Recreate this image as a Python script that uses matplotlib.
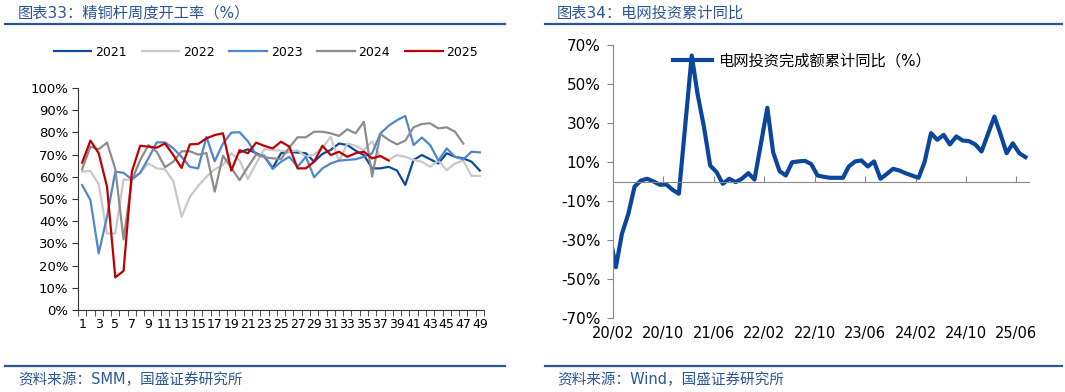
import numpy as np
import pandas as pd
import matplotlib
matplotlib.use('Agg')
import matplotlib.pyplot as plt
from matplotlib.ticker import FuncFormatter
from matplotlib.lines import Line2D

plt.rcParams['font.family'] = ['DejaVu Sans', 'Noto Sans CJK SC']

# ---- 图表33 数据：精铜杆周度开工率（%）----
weeks = np.arange(1, 50)
nan = np.nan
y2021 = [nan] * 19 + [71, 72.4, 70.6, 69, 64, 70.6, 71.3, 70.9, 70.6, 66.8,
                      70.3, 72.1, 75, 74.3, 71.8, 69.8, 63.8, 63.8, 64.5, 62.8,
                      56.3, 67.6, 69.8, 67.9, 66, 70.6, 69, 68.3, 66.8, 62.8]
y2022 = [62.3, 62.6, 56.7, 34.5, 34.5, 58.8, 58.5, 61.8, 66, 63.8,
         63.4, 58, 42, 51, 55.9, 60, 63.4, 65.3, 70.6, 67.5,
         59, 66, 72.5, 72, 71.8, 71.3, 72, 69, 70, 73,
         78, 67, 75, 74, 72, 76, 69, 67.6, 69.8, 69,
         67.6, 66.8, 64.5, 67.3, 63, 66, 67.3, 60.4, 60.4]
y2023 = [56.3, 49.5, 25.5, 42, 62.3, 61.8, 58.9, 61.8, 68.3, 75.5,
         75.5, 72.8, 69, 64.5, 63.8, 78, 67, 75, 79.9, 80.1,
         76, 70, 69.5, 63.5, 66.8, 69, 64.5, 69, 59.8, 63.8,
         66, 67.3, 67.6, 67.9, 69, 70.6, 79.6, 83, 85.5, 87.4,
         74.3, 77.7, 74.3, 67.3, 72.8, 69, 67.9, 71.3, 71]
y2024 = [63.4, 73.6, 72.4, 75.4, 63.5, 31.8, 58.5, 67.5, 74.3, 71.3,
         64.3, 66.8, 71.5, 71.5, 70, 70.7, 53.3, 69.5, 64, 58.5,
         64.4, 70, 68.8, 68.3, 68, 73.2, 77.8, 77.8, 80.3, 80.3,
         79.6, 78.4, 81.4, 79.6, 84.8, 60.1, 79.3, 76.6, 74.6, 76.3,
         82.3, 83.8, 84.1, 81.8, 82.3, 80.3, 75] + [nan] * 2
y2025 = [66.4, 76.3, 70.6, 55.6, 14.7, 17.6, 62.3, 74, 73.6, 73.1,
         75, 69.8, 64, 74.6, 74.8, 77.3, 78.8, 79.6, 62.8, 72,
         70.6, 75.4, 73.9, 72.8, 75.8, 73.6, 63.8, 63.8, 66.8, 74,
         69.8, 71.3, 69, 70.6, 71.3, 68.3, 69.4, 67.3] + [nan] * 11
years = ['2021', '2022', '2023', '2024', '2025']
colors = ['#0B4A9E', '#C9C9C9', '#4F87CC', '#8C8C8C', '#C00000']

# ---- 图表34 数据：电网投资完成额累计同比（%），无1月数据 ----
months = pd.date_range('2019-12-01', '2025-07-01', freq='MS')
months = months[months.month != 1] + pd.Timedelta(days=14)
grid_yoy = ([-10.0]
            + [-43.9, -26.8, -16.6, -2.6, 0.5, 1.4, 0.0, -1.7, -1.5, -4.3, -6.3]
            + [64.6, 45.0, 28.0, 8.2, 4.8, -1.2, 1.4, -0.3, 1.4, 4.3, 1.0]
            + [37.8, 15.0, 5.3, 3.1, 9.9, 10.3, 10.6, 8.9, 3.1, 2.4, 1.9]
            + [1.9, 7.7, 10.3, 10.8, 7.7, 10.3, 1.4, 3.9, 6.5, 5.6, 4.2]
            + [1.9, 10.0, 24.8, 21.4, 23.9, 19.0, 23.1, 21.0, 20.7, 19.0, 15.4]
            + [33.3, 24.7, 14.5, 19.6, 14.5, 12.5])
tick_dates = pd.date_range('2020-02-01', '2025-06-01', freq='8MS')

title_c = '#2B5797'
fig = plt.figure(figsize=(10.65, 3.92), dpi=100)

# 标题、分隔线、来源
fig.text(18 / 1065, 1 - 13 / 392, '图表33：精铜杆周度开工率（%）', fontsize=11,
         color=title_c, va='center')
fig.text(557 / 1065, 1 - 13 / 392, '图表34：电网投资累计同比', fontsize=11,
         color=title_c, va='center')
for x0, x1 in [(5, 505), (545, 1062)]:
    fig.add_artist(Line2D([x0 / 1065, x1 / 1065], [1 - 24 / 392] * 2,
                          color=title_c, lw=1.6))
    fig.add_artist(Line2D([x0 / 1065, x1 / 1065], [1 - 366 / 392] * 2,
                          color=title_c, lw=1.6))
fig.text(18 / 1065, 1 - 380 / 392, '资料来源：SMM，国盛证券研究所', fontsize=10.5,
         color=title_c, va='center')
fig.text(557 / 1065, 1 - 380 / 392, '资料来源：Wind，国盛证券研究所', fontsize=10.5,
         color=title_c, va='center')

# ---- 左图 ----
ax = fig.add_axes([78 / 1065, 1 - 310 / 392, 406 / 1065, 222 / 392])
for yr, vals, c in zip(years, [y2021, y2022, y2023, y2024, y2025], colors):
    ax.plot(weeks, np.array(vals) / 100, color=c, lw=1.6, label=yr)
ax.set_xlim(0.5, 49.5)
ax.set_ylim(0, 1)
ax.set_yticks(np.arange(0, 1.01, 0.1))
ax.yaxis.set_major_formatter(FuncFormatter(lambda v, p: f'{v * 100:.0f}%'))
ax.set_xticks(weeks[::2])
ax.set_xticks(np.arange(0.5, 50, 1), minor=True)
ax.tick_params(axis='x', which='major', length=0, labelsize=9, pad=6)
ax.tick_params(axis='x', which='minor', length=4, color='#333333')
ax.tick_params(axis='y', length=4, labelsize=9.5, color='#333333', pad=3)
for s in ['top', 'right']:
    ax.spines[s].set_visible(False)
for s in ['left', 'bottom']:
    ax.spines[s].set_color('#333333')
ax.legend(loc='center', bbox_to_anchor=(0.463, 1.162), ncol=5, frameon=False,
          fontsize=9, handlelength=3.0, handletextpad=0.3, columnspacing=1.2)

# ---- 右图 ----
ax2 = fig.add_axes([613 / 1065, 1 - 318 / 392, 416 / 1065, 273 / 392])
ax2.plot(months, grid_yoy, color='#0A469B', lw=3, label='电网投资完成额累计同比（%）')
ax2.set_xlim(pd.Timestamp('2020-02-01'), pd.Timestamp('2025-08-01'))
ax2.set_ylim(-70, 70)
ax2.set_yticks(np.arange(-70, 71, 20))
ax2.yaxis.set_major_formatter(FuncFormatter(lambda v, p: f'{v:.0f}%'))
ax2.tick_params(axis='y', length=4, labelsize=11, color='#888888', pad=5)
ax2.spines['bottom'].set_position(('data', 0))
ax2.spines['bottom'].set_color('#888888')
ax2.spines['left'].set_color('#888888')
for s in ['top', 'right']:
    ax2.spines[s].set_visible(False)
ax2.set_xticks(tick_dates)
ax2.tick_params(axis='x', direction='in', length=4, color='#888888',
                labelbottom=False)
for d in tick_dates:
    ax2.text(d, -0.03, d.strftime('%y/%m'), transform=ax2.get_xaxis_transform(),
             ha='center', va='top', fontsize=10.5)
ax2.legend(loc='upper left', bbox_to_anchor=(0.11, 1.02), frameon=False,
           fontsize=11, handlelength=2.6, handletextpad=0.4)

fig.savefig('out.png', dpi=100)
